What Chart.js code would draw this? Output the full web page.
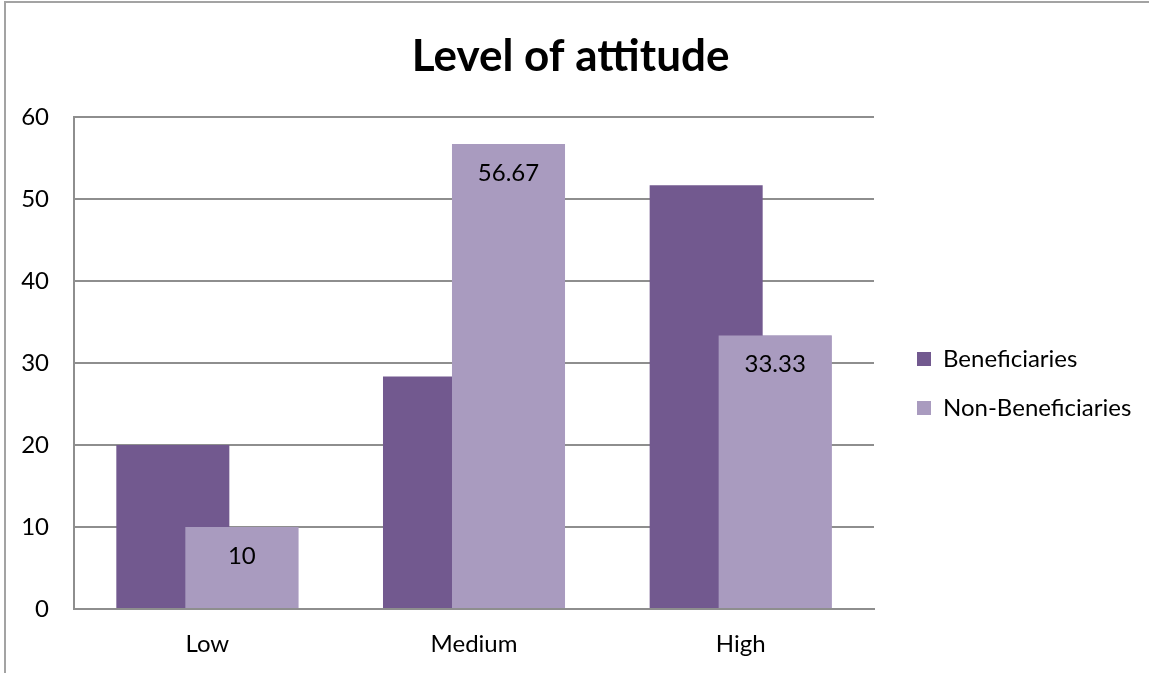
<!DOCTYPE html>
<html>
<head>
<meta charset="utf-8">
<title>Level of attitude</title>
<script src="https://cdn.jsdelivr.net/npm/chart.js@4"></script>
<style>
    html, body { margin: 0; padding: 0; background: #fff; }
    .wrap { position: relative; width: 1149px; height: 673px; overflow: hidden; }
    .frame {
        position: absolute; left: 4px; top: 1px; width: 1145px; height: 672px;
        border-top: 2px solid #a3a3a3; border-left: 2px solid #a3a3a3; box-sizing: border-box;
    }
    #chart { position: absolute; left: 0; top: 0; }
</style>
</head>
<body>
<div class="wrap">
    <div class="frame"></div>
    <canvas id="chart" width="1149" height="673"></canvas>
</div>
<script>
    // Chart data
    const categories = ["Low", "Medium", "High"];
    const beneficiaries = [20, 28.33, 51.67];
    const nonBeneficiaries = [10, 56.67, 33.33];
    const seriesNames = ["Beneficiaries", "Non-Beneficiaries"];
    const yTicks = [0, 10, 20, 30, 40, 50, 60];

    const gridColor = "#8e8e8e";
    const fontSize = 24;
    const legendPad = 25;

    Chart.defaults.font.family = "Lato, 'Open Sans', sans-serif";
    Chart.defaults.color = "#000";

    // Work out how much room the legend needs so the plot ends where it should
    const probe = document.createElement("canvas").getContext("2d");
    probe.font = "normal " + fontSize + "px Lato";
    const textWidth = Math.max(...seriesNames.map(s => probe.measureText(s).width));
    const legendWidth = legendPad + 14 + fontSize / 2 + textWidth + 10;
    const rightPad = Math.max(0, 257 - legendWidth);

    // Draws the light bars over the dark ones, then the value labels
    const overlayPlugin = {
        id: "overlay",
        afterDatasetsDraw(chart) {
            const meta = chart.getDatasetMeta(1);
            meta.controller.draw();
            const ctx = chart.ctx;
            ctx.save();
            ctx.font = "normal " + fontSize + "px Lato";
            ctx.fillStyle = "#000";
            ctx.textAlign = "center";
            ctx.textBaseline = "middle";
            meta.data.forEach((bar, i) => {
                ctx.fillText(String(nonBeneficiaries[i]), bar.x, bar.y + 29);
            });
            ctx.restore();
        }
    };

    const ctx = document.getElementById("chart").getContext("2d");
    new Chart(ctx, {
        type: "bar",
        data: {
            labels: categories,
            datasets: [
                {
                    label: seriesNames[0],
                    data: beneficiaries,
                    backgroundColor: "#72598F"
                },
                {
                    label: seriesNames[1],
                    data: nonBeneficiaries,
                    backgroundColor: "#A99BBF"
                }
            ]
        },
        options: {
            responsive: false,
            animation: false,
            categoryPercentage: 0.5175,
            barPercentage: 1.638,
            layout: { padding: { top: 0, left: 0, bottom: 0, right: rightPad } },
            plugins: {
                title: {
                    display: true,
                    text: "Level of attitude",
                    font: { size: 44, weight: "bold", lineHeight: 1.2 },
                    padding: { top: 30, bottom: 34 }
                },
                legend: {
                    position: "right",
                    fullSize: false,
                    maxWidth: 257,
                    title: {
                        display: true,
                        text: " ",
                        font: { size: 11, lineHeight: 1 },
                        padding: { top: 15, bottom: 15 }
                    },
                    labels: {
                        boxWidth: 14,
                        boxHeight: 14,
                        padding: legendPad,
                        font: { size: fontSize }
                    }
                },
                tooltip: { enabled: false }
            },
            scales: {
                x: {
                    grid: { display: false, drawTicks: false },
                    border: { display: true, color: gridColor, width: 2 },
                    ticks: { padding: 21, font: { size: fontSize } },
                    afterFit(scale) { scale.height = 64; }
                },
                y: {
                    min: yTicks[0],
                    max: yTicks[yTicks.length - 1],
                    afterBuildTicks(scale) { scale.ticks = yTicks.map(v => ({ value: v })); },
                    grid: { color: gridColor, lineWidth: 2, drawTicks: false },
                    border: { display: true, color: gridColor, width: 2 },
                    ticks: { padding: 25, font: { size: fontSize } },
                    afterFit(scale) { scale.width = 74; }
                },
                // empty spacer between the plot and the legend
                yGap: {
                    type: "linear",
                    position: "right",
                    grid: { display: false, drawTicks: false },
                    border: { display: false },
                    ticks: { display: false },
                    afterFit(scale) { scale.width = 18; }
                }
            }
        },
        plugins: [overlayPlugin]
    });
</script>
</body>
</html>
